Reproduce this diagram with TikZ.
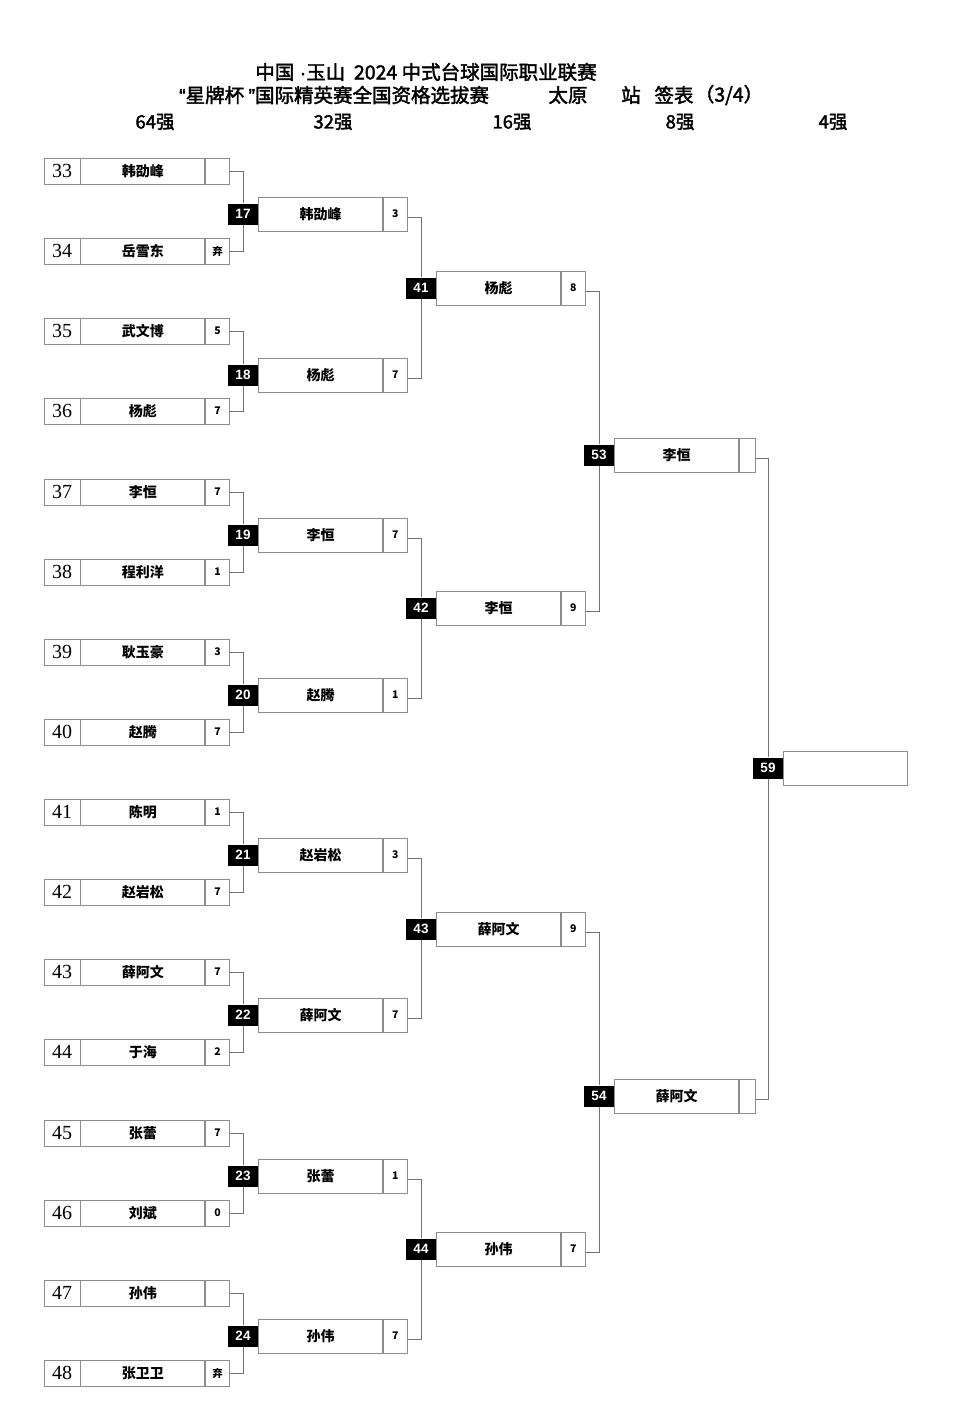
\documentclass[tikz,border=0pt]{standalone}
\usepackage{fontspec}
\setmainfont{Liberation Sans}
\newfontfamily\cjk{Noto Sans CJK SC}
\newfontfamily\cjkhead{Noto Sans CJK SC}[FakeBold=2]
\newfontfamily\latin{Liberation Sans}[FakeBold=2]
\newfontfamily\seedfont{Liberation Serif}
\usetikzlibrary{positioning}

\begin{document}
\begin{tikzpicture}[
  x=1pt, y=-1pt,
  cell/.style={draw=black!45, line width=0.8pt, inner sep=0pt, minimum height=26pt},
  big/.style={minimum height=34pt},
  seedbox/.style={cell, minimum width=36pt, font=\seedfont\fontsize{20}{20}\selectfont},
  player/.style={cell, minimum width=124pt, font=\cjk\bfseries\fontsize{14}{14}\selectfont},
  pts/.style={cell, minimum width=24pt, font=\cjk\bfseries\fontsize{10.5}{10.5}\selectfont},
  matchno/.style={fill=black, text=white, inner sep=0pt, minimum width=30pt, minimum height=21pt,
    font=\bfseries\fontsize{13.5}{13.5}\selectfont},
  title/.style={font=\cjkhead\fontsize{19.5}{19.5}\selectfont, inner sep=0pt},
  roundlbl/.style={font=\cjkhead\fontsize{18.5}{18.5}\selectfont, inner sep=0pt},
  link/.style={draw=black!55, line width=0.8pt}
]
\fill[white] (0,0) rectangle (975,1425);
\useasboundingbox (0,0) rectangle (975,1425);

% Heading
\node[title] (head1) at (426,72) {中国{\latin\ ·}玉山\ \ 2024 中式台球国际职业联赛};
\node[title, anchor=west] (head2) at (179,95) {{\latin “}星牌杯 {\latin ”}国际精英赛全国资格选拔赛};
\node[title] (city) at (568,95) {太原};
\node[title] (stn) at (631,95) {站};
\node[title] (sheet) at (674,95) {签表};
\node[title] (part) at (729,95) {（3/4）};

\node[roundlbl] (r64) at (155,122) {64强};
\node[roundlbl] (r32) at (333,122) {32强};
\node[roundlbl] (r16) at (512,122) {16强};
\node[roundlbl] (r8) at (680,122) {8强};
\node[roundlbl] (r4) at (833,122) {4强};

% 64 -> 32
\node[seedbox] (n33) at (62,171) {33}; \node[player, right=0pt of n33] (p33) {韩劭峰}; \node[pts, right=0pt of p33] (s33) {};
\node[seedbox] (n34) at (62,251) {34}; \node[player, right=0pt of n34] (p34) {岳雪东}; \node[pts, right=0pt of p34] (s34) {弃};
\node[seedbox] (n35) at (62,331) {35}; \node[player, right=0pt of n35] (p35) {武文博}; \node[pts, right=0pt of p35] (s35) {5};
\node[seedbox] (n36) at (62,411) {36}; \node[player, right=0pt of n36] (p36) {杨彪}; \node[pts, right=0pt of p36] (s36) {7};
\node[seedbox] (n37) at (62,492) {37}; \node[player, right=0pt of n37] (p37) {李恒}; \node[pts, right=0pt of p37] (s37) {7};
\node[seedbox] (n38) at (62,572) {38}; \node[player, right=0pt of n38] (p38) {程利洋}; \node[pts, right=0pt of p38] (s38) {1};
\node[seedbox] (n39) at (62,652) {39}; \node[player, right=0pt of n39] (p39) {耿玉豪}; \node[pts, right=0pt of p39] (s39) {3};
\node[seedbox] (n40) at (62,732) {40}; \node[player, right=0pt of n40] (p40) {赵腾}; \node[pts, right=0pt of p40] (s40) {7};
\node[seedbox] (n41) at (62,812) {41}; \node[player, right=0pt of n41] (p41) {陈明}; \node[pts, right=0pt of p41] (s41) {1};
\node[seedbox] (n42) at (62,892) {42}; \node[player, right=0pt of n42] (p42) {赵岩松}; \node[pts, right=0pt of p42] (s42) {7};
\node[seedbox] (n43) at (62,972) {43}; \node[player, right=0pt of n43] (p43) {薛阿文}; \node[pts, right=0pt of p43] (s43) {7};
\node[seedbox] (n44) at (62,1052) {44}; \node[player, right=0pt of n44] (p44) {于海}; \node[pts, right=0pt of p44] (s44) {2};
\node[seedbox] (n45) at (62,1133) {45}; \node[player, right=0pt of n45] (p45) {张蕾}; \node[pts, right=0pt of p45] (s45) {7};
\node[seedbox] (n46) at (62,1213) {46}; \node[player, right=0pt of n46] (p46) {刘斌}; \node[pts, right=0pt of p46] (s46) {0};
\node[seedbox] (n47) at (62,1293) {47}; \node[player, right=0pt of n47] (p47) {孙伟}; \node[pts, right=0pt of p47] (s47) {};
\node[seedbox] (n48) at (62,1373) {48}; \node[player, right=0pt of n48] (p48) {张卫卫}; \node[pts, right=0pt of p48] (s48) {弃};

% 32 -> 16
\node[matchno] (t17) at (243,214) {17}; \node[player, big, right=0pt of t17] (p17) {韩劭峰}; \node[pts, big, right=0pt of p17] (s17) {3};
\node[matchno] (t18) at (243,375) {18}; \node[player, big, right=0pt of t18] (p18) {杨彪}; \node[pts, big, right=0pt of p18] (s18) {7};
\node[matchno] (t19) at (243,535) {19}; \node[player, big, right=0pt of t19] (p19) {李恒}; \node[pts, big, right=0pt of p19] (s19) {7};
\node[matchno] (t20) at (243,695) {20}; \node[player, big, right=0pt of t20] (p20) {赵腾}; \node[pts, big, right=0pt of p20] (s20) {1};
\node[matchno] (t21) at (243,855) {21}; \node[player, big, right=0pt of t21] (p21) {赵岩松}; \node[pts, big, right=0pt of p21] (s21) {3};
\node[matchno] (t22) at (243,1015) {22}; \node[player, big, right=0pt of t22] (p22) {薛阿文}; \node[pts, big, right=0pt of p22] (s22) {7};
\node[matchno] (t23) at (243,1176) {23}; \node[player, big, right=0pt of t23] (p23) {张蕾}; \node[pts, big, right=0pt of p23] (s23) {1};
\node[matchno] (t24) at (243,1336) {24}; \node[player, big, right=0pt of t24] (p24) {孙伟}; \node[pts, big, right=0pt of p24] (s24) {7};

% 16 -> 8
\node[matchno] (t41) at (421,288) {41}; \node[player, big, right=0pt of t41] (q41) {杨彪}; \node[pts, big, right=0pt of q41] (r41) {8};
\node[matchno] (t42) at (421,608) {42}; \node[player, big, right=0pt of t42] (q42) {李恒}; \node[pts, big, right=0pt of q42] (r42) {9};
\node[matchno] (t43) at (421,929) {43}; \node[player, big, right=0pt of t43] (q43) {薛阿文}; \node[pts, big, right=0pt of q43] (r43) {9};
\node[matchno] (t44) at (421,1249) {44}; \node[player, big, right=0pt of t44] (q44) {孙伟}; \node[pts, big, right=0pt of q44] (r44) {7};

% 8 -> 4
\node[matchno] (t53) at (599,455) {53}; \node[player, big, right=0pt of t53] (q53) {李恒}; \node[pts, big, minimum width=16pt, right=0pt of q53] (r53) {};
\node[matchno] (t54) at (599,1096) {54}; \node[player, big, right=0pt of t54] (q54) {薛阿文}; \node[pts, big, minimum width=16pt, right=0pt of q54] (r54) {};

\node[matchno] (t59) at (768,768) {59}; \node[player, big, right=0pt of t59] (q59) {};

% Connectors
\draw[link] (s33.east) -| (t17) (s34.east) -| (t17);
\draw[link] (s35.east) -| (t18) (s36.east) -| (t18);
\draw[link] (s37.east) -| (t19) (s38.east) -| (t19);
\draw[link] (s39.east) -| (t20) (s40.east) -| (t20);
\draw[link] (s41.east) -| (t21) (s42.east) -| (t21);
\draw[link] (s43.east) -| (t22) (s44.east) -| (t22);
\draw[link] (s45.east) -| (t23) (s46.east) -| (t23);
\draw[link] (s47.east) -| (t24) (s48.east) -| (t24);

\draw[link] ([yshift=-3pt]s17.east) -| (t41) ([yshift=-3pt]s18.east) -| (t41);
\draw[link] ([yshift=-3pt]s19.east) -| (t42) ([yshift=-3pt]s20.east) -| (t42);
\draw[link] ([yshift=-3pt]s21.east) -| (t43) ([yshift=-3pt]s22.east) -| (t43);
\draw[link] ([yshift=-3pt]s23.east) -| (t44) ([yshift=-3pt]s24.east) -| (t44);

\draw[link] ([yshift=-3pt]r41.east) -| (t53) ([yshift=-3pt]r42.east) -| (t53);
\draw[link] ([yshift=-3pt]r43.east) -| (t54) ([yshift=-3pt]r44.east) -| (t54);

\draw[link] ([yshift=-3pt]r53.east) -| (t59) ([yshift=-3pt]r54.east) -| (t59);
\end{tikzpicture}
\end{document}
